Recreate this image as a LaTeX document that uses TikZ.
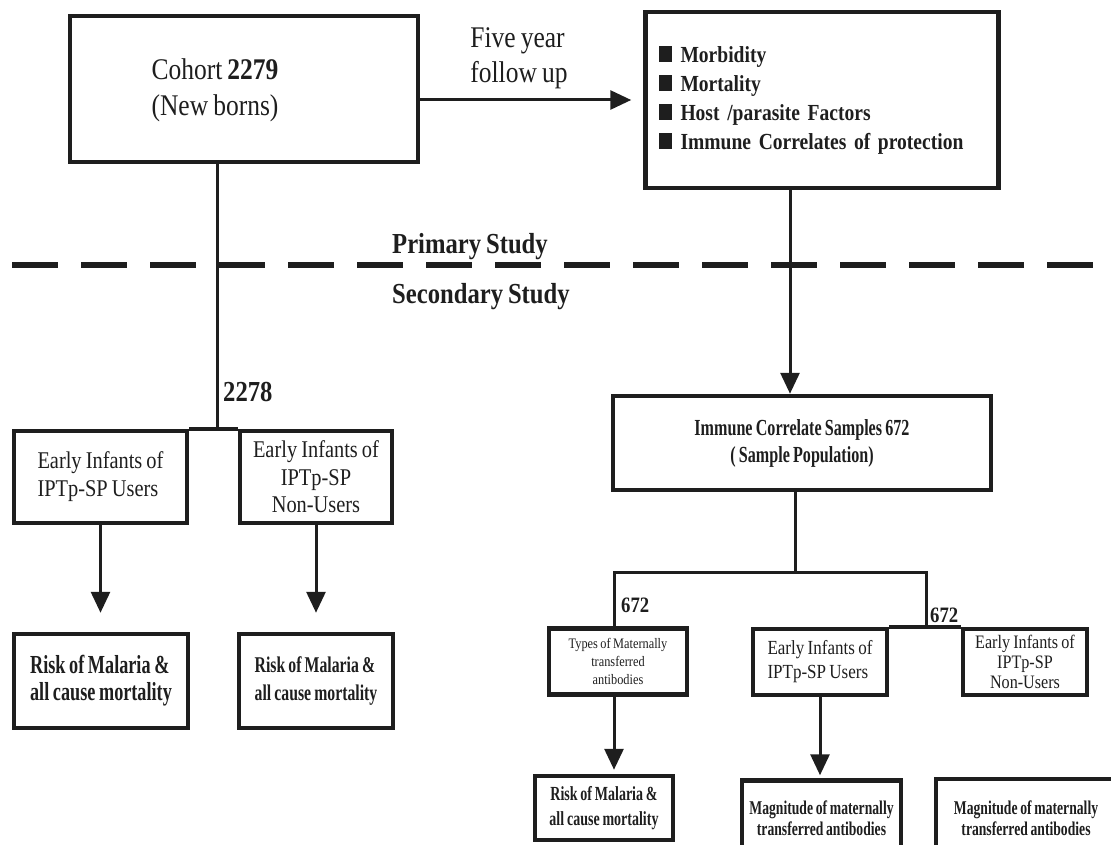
\documentclass[tikz,border=0pt]{standalone}
\usepackage{fontspec}
\setmainfont{Liberation Serif}[FakeStretch=0.85, WordSpace=0.8]
\newfontfamily\narrowfont{Liberation Serif}[FakeStretch=0.7, WordSpace=0.8]
\usetikzlibrary{arrows.meta}

\definecolor{ink}{HTML}{1E1E1E}
\newcommand{\fs}[2]{\fontsize{#1}{#2}\selectfont}
\newcommand{\sqbul}{\rule{13pt}{16pt}\hspace{9pt}}

\begin{document}
\begin{tikzpicture}[x=1pt, y=-1pt,
    box/.style={draw=ink, line width=4.5pt, inner sep=0pt, text=ink},
    conn/.style={draw=ink, line width=3pt},
    arr/.style={conn, -{Triangle[length=21pt, width=19pt]}},
    txt/.style={text=ink, inner sep=0pt}]
    \useasboundingbox (0,0) rectangle (1111,845);
    \clip (0,0) rectangle (1111,845);
    % Nodes
    \node[box, minimum width=348pt, minimum height=146pt] (cohort) at (244,89) {};
    \node[txt, align=center, font=\fs{30}{36}] (cohorttxt) at (215,90) {Cohort \textbf{2279}\\(New borns)};
    \node[txt, align=left, font=\fs{30}{35}] (follow) at (519,58) {Five year\\follow up};
    \node[box, minimum width=353pt, minimum height=176pt, text width=327pt, align=left, font=\fs{23}{29}\bfseries] (outc) at (822,100)
        {\sqbul Morbidity\\\sqbul Mortality\\\sqbul Host /parasite Factors\\\sqbul Immune Correlates of protection};
    \node[txt, anchor=west, font=\fs{29}{32}\bfseries] (prim) at (392,247) {Primary Study};
    \node[txt, anchor=west, font=\fs{29}{32}\bfseries] (sec) at (392,297) {Secondary Study};
    \node[txt, anchor=west, font=\fs{29}{32}\bfseries] (n2278) at (223,392) {2278};
    \node[box, minimum width=173pt, minimum height=92pt, align=left, font=\fs{24}{28}] (usersL) at (100.5,477) {Early Infants of\\IPTp-SP Users};
    \node[box, minimum width=152pt, minimum height=92pt, align=center, font=\fs{24}{27.5}] (nonusersL) at (316,477) {Early Infants of\\IPTp-SP\\Non-Users};
    \node[box, minimum width=174pt, minimum height=94pt, align=left, font=\narrowfont\fs{26}{27}\bfseries] (riskL) at (101,681) {Risk of Malaria \&\\all cause mortality};
    \node[box, minimum width=154pt, minimum height=94pt, align=left, font=\narrowfont\fs{22.5}{28}\bfseries] (riskR) at (316,681) {Risk of Malaria \&\\all cause mortality};
    \node[box, minimum width=378pt, minimum height=94pt, align=center, font=\narrowfont\fs{23}{27}\bfseries] (imm) at (802,443) {Immune Correlate Samples 672\\( Sample Population)};
    \node[txt, anchor=west, font=\fs{22}{24}\bfseries] (n672a) at (621,605) {672};
    \node[txt, anchor=west, font=\fs{22}{24}\bfseries] (n672b) at (930,615) {672};
    \node[box, minimum width=138pt, minimum height=66pt, align=center, font=\fs{14.5}{18}] (types) at (618,661.5) {Types of Maternally\\transferred\\antibodies};
    \node[box, minimum width=134pt, minimum height=66pt, align=left, font=\fs{20}{24}] (usersR) at (820,662) {Early Infants of\\IPTp-SP Users};
    \node[box, minimum width=124pt, minimum height=66pt, align=center, font=\fs{19}{20}] (nonusersR) at (1025,662) {Early Infants of\\IPTp-SP\\Non-Users};
    \node[box, minimum width=138pt, minimum height=64pt, align=center, font=\narrowfont\fs{20}{25}\bfseries] (risk3) at (604,808) {Risk of Malaria \&\\all cause mortality};
    \node[box, minimum width=159pt, minimum height=76pt, align=center, font=\narrowfont\fs{19.5}{21}\bfseries] (mag1) at (821.5,818.5) {Magnitude of maternally\\transferred antibodies};
    \node[box, minimum width=180pt, minimum height=78pt, align=center, font=\narrowfont\fs{19.5}{21}\bfseries] (mag2) at (1026,818) {Magnitude of maternally\\transferred antibodies};
    \coordinate (j1) at (217,429);
    \coordinate (j2) at (795,572);
    \coordinate (j3) at (926,572);
    % Divider
    \draw[ink, line width=6pt, dash pattern=on 46pt off 23pt] (12,265) -- (1111,265);
    % Edges
    \draw[arr, shorten >=12pt] (cohort.east |- outc.west) -- (outc.west);
    \draw[conn] (cohort.south -| j1) -- (j1);
    \draw[ink, line width=4.5pt] (usersL.north east) -- (nonusersL.north west);
    \draw[arr, shorten >=19pt] (usersL.south) -- (usersL.south |- riskL.north);
    \draw[arr, shorten >=19pt] (nonusersL.south) -- (nonusersL.south |- riskR.north);
    \draw[arr] ([xshift=-32pt]outc.south) -- ([xshift=-12pt]imm.north);
    \draw[conn] (imm.south -| j2) -- (j2);
    \draw[conn] ([xshift=-4pt]types.north) |- (j3) -- (j3 |- usersR.north);
    \draw[ink, line width=4.5pt] (usersR.north east) -- (nonusersR.north west);
    \draw[arr, shorten >=4pt] ([xshift=-4pt]types.south) -- ([xshift=-4pt]types.south |- risk3.north);
    \draw[arr, shorten >=3pt] (usersR.south) -- (usersR.south |- mag1.north);
\end{tikzpicture}
\end{document}
